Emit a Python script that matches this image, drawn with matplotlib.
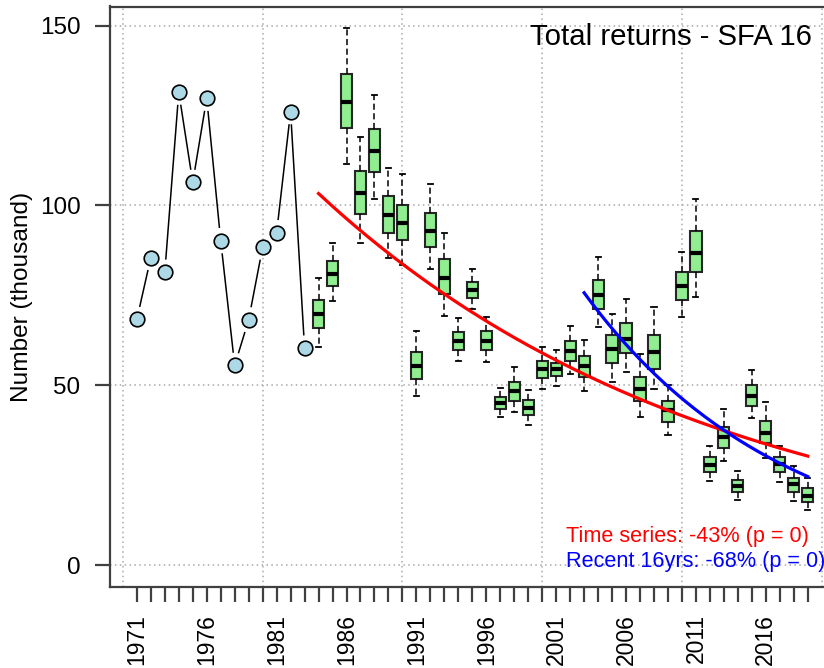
import numpy as np
import matplotlib
matplotlib.use("Agg")
import matplotlib.pyplot as plt

plt.rcParams['font.family'] = ['Liberation Sans', 'DejaVu Sans']

# ---- data ----
point_years = [1971, 1972, 1973, 1974, 1975, 1976, 1977, 1978, 1979, 1980, 1981, 1982, 1983]
point_vals = [68.3, 85.5, 81.4, 131.5, 106.4, 129.8, 90.2, 55.5, 68.2, 88.4, 92.4, 126.1, 60.3]

box_years = list(range(1984, 2020))
whis_lo = [60.7, 73.3, 111.6, 89.6, 101.7, 85.3, 83.4, 47.0, 82.2, 69.3, 56.8, 71.3, 56.5, 41.1,
           42.5, 38.9, 49.0, 49.8, 53.1, 48.5, 66.3, 51.0, 53.6, 41.1, 49.0, 36.1, 69.1, 74.4,
           23.4, 29.0, 18.1, 40.9, 29.9, 23.2, 17.9, 15.3]
q1 = [66.0, 77.6, 121.6, 97.7, 109.4, 92.2, 90.4, 51.6, 88.3, 75.5, 59.8, 74.3, 59.8, 43.3,
      45.7, 41.6, 52.1, 52.5, 56.8, 52.3, 71.3, 56.2, 58.9, 45.6, 54.4, 39.7, 73.8, 81.4,
      25.8, 32.6, 20.2, 44.3, 33.8, 26.0, 20.2, 17.5]
medians = [69.7, 80.9, 128.7, 103.5, 115.1, 97.3, 95.1, 55.3, 93.0, 79.9, 62.4, 76.6, 62.4, 45.0,
           48.3, 43.6, 54.4, 54.4, 59.6, 55.4, 75.2, 60.1, 62.8, 48.9, 59.3, 43.1, 77.5, 86.9,
           27.8, 35.5, 22.0, 47.1, 36.8, 28.1, 22.4, 19.3]
q3 = [73.8, 84.5, 136.6, 109.6, 121.3, 102.6, 100.1, 59.1, 97.9, 85.0, 64.8, 78.7, 65.1, 46.8,
      50.9, 45.8, 56.7, 56.3, 62.3, 58.2, 79.3, 63.9, 67.4, 52.3, 64.1, 45.6, 81.4, 92.9,
      30.0, 38.4, 23.6, 50.0, 40.1, 30.1, 24.3, 21.3]
whis_hi = [79.7, 89.6, 149.2, 119.0, 130.6, 110.4, 108.8, 65.1, 106.0, 92.3, 68.6, 82.3, 69.1, 49.2,
           55.1, 48.7, 60.5, 59.8, 66.5, 62.7, 85.7, 69.7, 74.1, 58.6, 71.7, 50.0, 87.1, 101.9,
           33.1, 43.3, 26.2, 54.2, 45.4, 33.1, 27.6, 24.3]

# exponential trend fits (start / end values)
red_years = [1984, 2019]
red_vals = [103.3, 30.3]
blue_years = [2003, 2019]
blue_vals = [75.7, 24.6]

grid_x = [1970, 1980, 1990, 2000, 2010, 2020]
grid_y = [0, 50, 100, 150]
ytick_vals = [0, 50, 100, 150]
xtick_years = list(range(1971, 2020))
xlabel_years = [1971, 1976, 1981, 1986, 1991, 1996, 2001, 2006, 2011, 2016]

title = "Total returns - SFA 16"
ylabel = "Number (thousand)"
legend_red = "Time series: -43% (p = 0)"
legend_blue = "Recent 16yrs: -68% (p = 0)"

# ---- figure ----
W, H = 824, 668
fig = plt.figure(figsize=(W / 100, H / 100), dpi=100)
ax_left, ax_right, ax_top, ax_bot = 110, 834.6, 6.5, 587
ax = fig.add_axes([ax_left / W, 1 - ax_bot / H, (ax_right - ax_left) / W, (ax_bot - ax_top) / H])
ax.set_xlim(1969.08, 2020.92)
ax.set_ylim(-6.1, 155.3)

axis_col = '#404040'
for s in ['left', 'top', 'bottom']:
    ax.spines[s].set_color(axis_col)
    ax.spines[s].set_linewidth(1.6)
ax.spines['right'].set_visible(False)

for gx in grid_x:
    ax.axvline(gx, color='#a8a8a8', lw=1.1, ls=(0, (1, 2.2)), zorder=0.5)
for gy in grid_y:
    ax.axhline(gy, color='#a8a8a8', lw=1.1, ls=(0, (1, 2.2)), zorder=0.5)

# ticks
ax.set_yticks(ytick_vals)
ax.set_yticklabels([str(v) for v in ytick_vals])
ax.set_xticks(xtick_years)
ax.set_xticklabels([str(y) if y in xlabel_years else '' for y in xtick_years], rotation=90, va='top')
ax.tick_params(axis='both', direction='out', length=10.8, width=1.6, color=axis_col,
               labelsize=17.5, labelcolor='black')
ax.tick_params(axis='y', pad=10.5)
ax.tick_params(axis='x', pad=8.5, labelsize=16.5)

# boxplots
stats = []
for i in range(len(box_years)):
    stats.append(dict(med=medians[i], q1=q1[i], q3=q3[i], whislo=whis_lo[i], whishi=whis_hi[i], fliers=[]))
ax.bxp(stats, positions=box_years, widths=0.8, capwidths=0.36, patch_artist=True, manage_ticks=False,
       boxprops=dict(facecolor='#90EE90', edgecolor='#262626', linewidth=1.5),
       medianprops=dict(color='black', linewidth=3.0, solid_capstyle='butt'),
       whiskerprops=dict(color='black', linewidth=1.1, linestyle=(0, (4, 2.3))),
       capprops=dict(color='black', linewidth=1.3),
       zorder=3)

# trend curves
rx = np.linspace(red_years[0], red_years[1], 200)
ry = np.geomspace(red_vals[0], red_vals[1], 200)
ax.plot(rx, ry, color='#ff0000', lw=2.3, zorder=4)
bx = np.linspace(blue_years[0], blue_years[1], 200)
by = np.geomspace(blue_vals[0], blue_vals[1], 200)
ax.plot(bx, by, color='#0000ff', lw=2.3, zorder=4)

# points with gapped connecting lines (type "b")
pts = ax.transData.transform(np.column_stack([point_years, point_vals]))
gap = 13.5
inv = ax.transData.inverted()
for a, b in zip(pts[:-1], pts[1:]):
    d = b - a
    L = np.hypot(*d)
    if L > 2 * gap:
        u = d / L
        seg = inv.transform(np.array([a + u * gap, b - u * gap]))
        ax.plot(seg[:, 0], seg[:, 1], color='black', lw=1.1, zorder=3)
ax.plot(point_years, point_vals, ls='none', marker='o', ms=10.5, mfc='#ADD8E6', mec='black',
        mew=1.2, zorder=5)

# texts
ax.text((811.7 - ax_left) / (ax_right - ax_left), (ax_bot - 45) / (ax_bot - ax_top), title,
        transform=ax.transAxes, ha='right', va='baseline', fontsize=21.2, color='black')
ax.text((566 - ax_left) / (ax_right - ax_left), (ax_bot - 542.3) / (ax_bot - ax_top), legend_red,
        transform=ax.transAxes, ha='left', va='baseline', fontsize=15.6, color='#ff0000', zorder=6)
ax.text((566 - ax_left) / (ax_right - ax_left), (ax_bot - 567) / (ax_bot - ax_top), legend_blue,
        transform=ax.transAxes, ha='left', va='baseline', fontsize=15.6, color='#0000ff', zorder=6)

ax.set_ylabel(ylabel, fontsize=17.6)
ax.yaxis.set_label_coords((33 - ax_left) / (ax_right - ax_left), 0.5)

fig.savefig('out.png', dpi=100)
